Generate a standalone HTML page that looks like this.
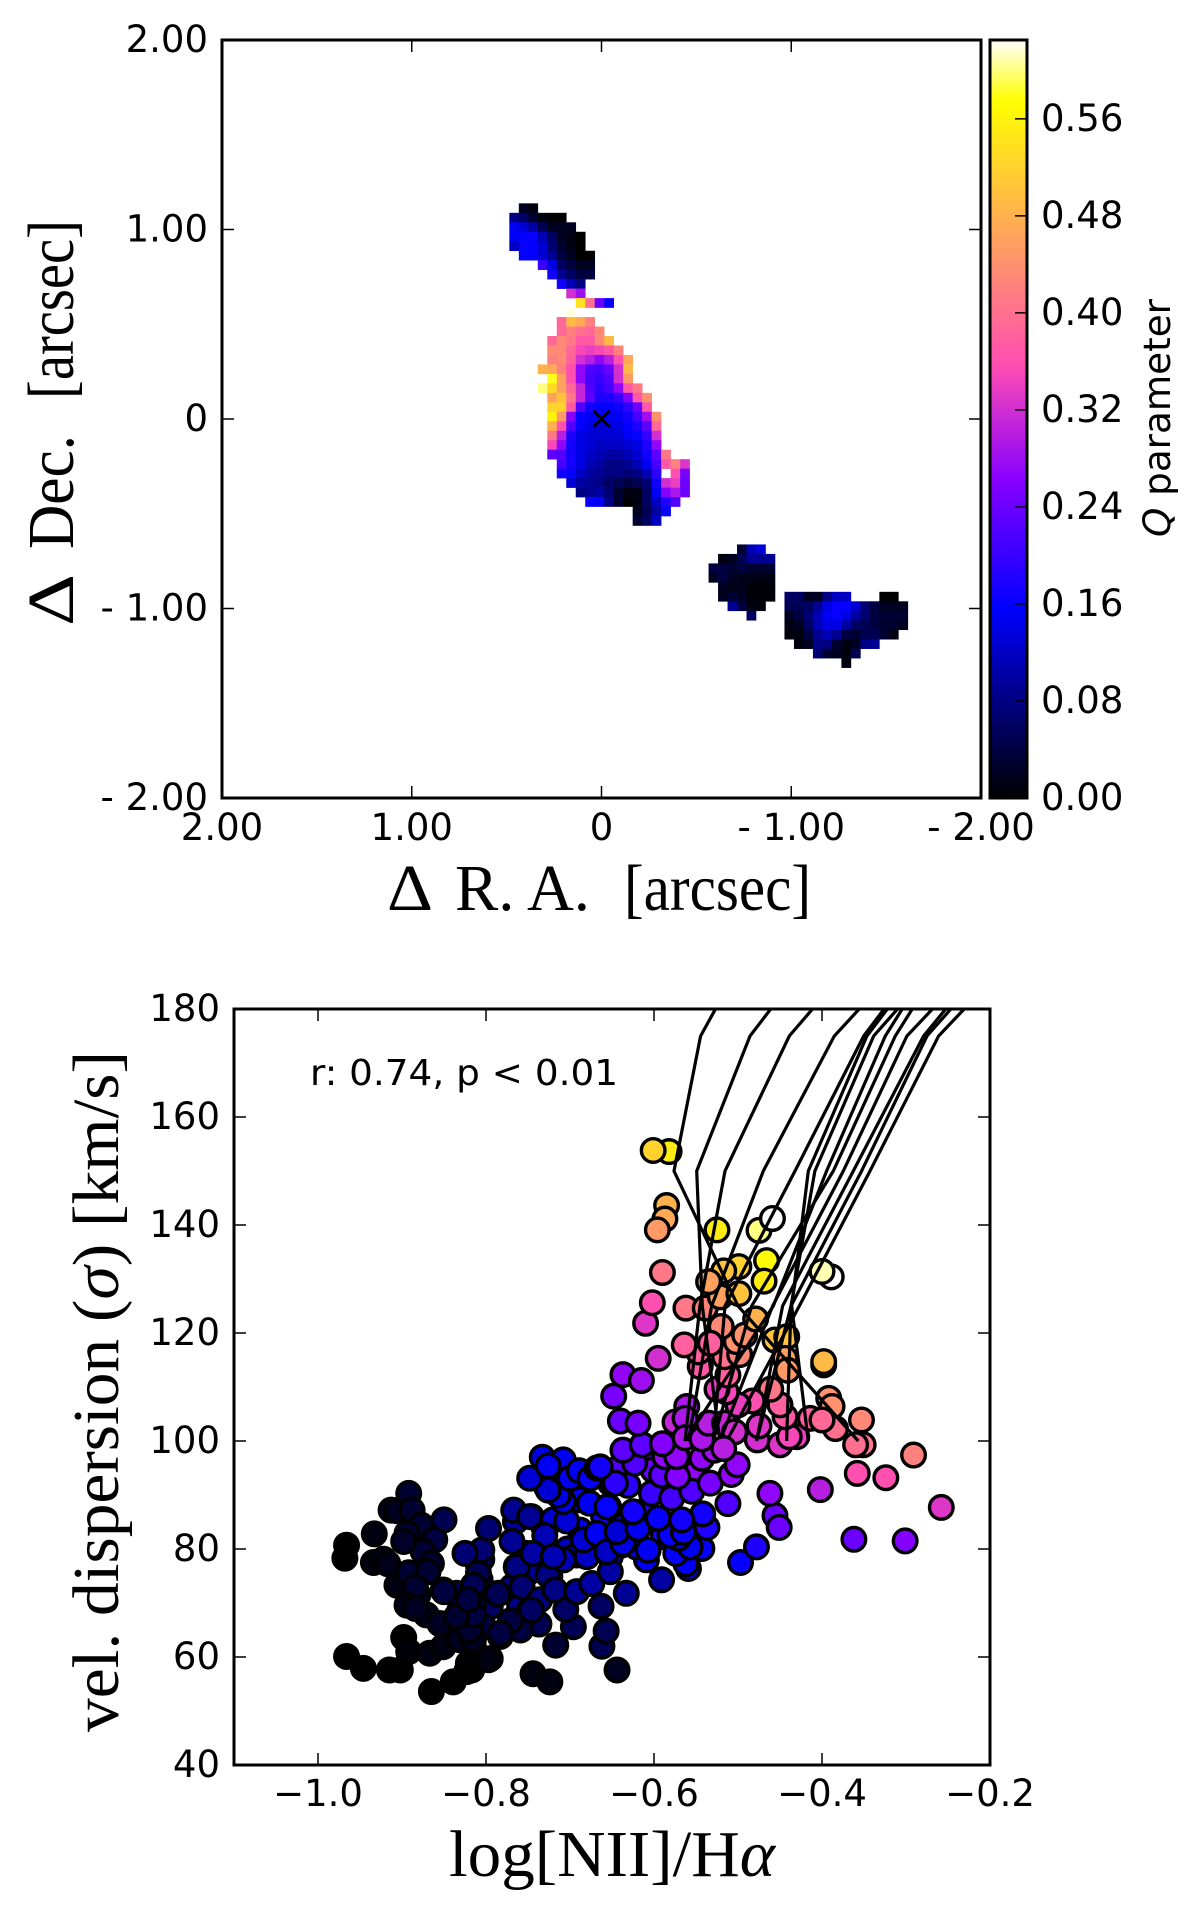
<!DOCTYPE html>
<html>
<head>
<meta charset="utf-8">
<title>Q parameter map and velocity dispersion diagram</title>
<style>
html,body{margin:0;padding:0;background:#fff;}
svg{display:block;}
.tick{font-family:"DejaVu Sans",sans-serif;font-size:37px;fill:#000;}
.math{font-family:"Liberation Serif",serif;font-size:66px;fill:#000;}
</style>
</head>
<body>
<svg id="fig" xmlns="http://www.w3.org/2000/svg" width="1200" height="1915" viewBox="0 0 1200 1915">
  <rect x="0" y="0" width="1200" height="1915" fill="#fff"/>
  <defs>
    <clipPath id="scatterClip"><rect x="234" y="1009" width="756" height="756"/></clipPath>
    <linearGradient id="cbGrad" x1="0" y1="1" x2="0" y2="0"></linearGradient>
  </defs>
  <g id="heat"></g>
  <g id="mapAxes"></g>
  <rect x="990" y="40" width="37" height="758" fill="url(#cbGrad)"/>
  <g id="cbAxes"></g>
  <g id="pts"></g>
  <g id="lines" clip-path="url(#scatterClip)"></g>
  <g id="ptsTop"></g>
  <g id="scAxes"></g>

  <g>
    <text class="math" x="387" y="910" textLength="46" lengthAdjust="spacingAndGlyphs">Δ</text>
    <text class="math" x="455" y="910" textLength="135" lengthAdjust="spacingAndGlyphs">R. A.</text>
    <text class="math" x="624" y="910" textLength="187" lengthAdjust="spacingAndGlyphs">[arcsec]</text>
  </g>
  <g>
    <text class="math" transform="translate(73,626) rotate(-90)" textLength="52" lengthAdjust="spacingAndGlyphs">Δ</text>
    <text class="math" transform="translate(73,549) rotate(-90)" textLength="114" lengthAdjust="spacingAndGlyphs">Dec.</text>
    <text class="math" transform="translate(73,399) rotate(-90)" textLength="179" lengthAdjust="spacingAndGlyphs">[arcsec]</text>
  </g>
  <text class="tick" transform="translate(1170,537) rotate(-90)" textLength="238" lengthAdjust="spacingAndGlyphs"><tspan font-style="italic">Q</tspan> parameter</text>
  <text class="math" transform="translate(118,1732) rotate(-90)" textLength="681" lengthAdjust="spacingAndGlyphs">vel. dispersion (<tspan font-style="italic">σ</tspan>) [km/s]</text>
  <text class="math" x="449" y="1876" textLength="326" lengthAdjust="spacingAndGlyphs">log[NII]/H<tspan font-style="italic">α</tspan></text>
  <text class="tick" x="310" y="1085" textLength="308" lengthAdjust="spacingAndGlyphs" style="font-size:36px">r: 0.74, p &lt; 0.01</text>
</svg>
<script>
var _ = null;
// ---- Map: Q values per 0.05 arcsec spaxel; each row begins at qStartCol[row]
var qStartCol = [1,0,0,0,0,1,3,4,5,6,7,6,5,5,4,4,4,3,4,3,4,4,4,4,4,4,4,5,5,6,7,8,13,13,0,0,24,22,21,21,22,22,23,25,29,29,30,32,35];
var qGrid = [
[.02,.01],
[.08,.06,.03,.01,0,0],
[.15,.13,.10,.05,.02,.02,.02],
[.15,.16,.16,.11,.06,.02,.01,0],
[.12,.16,.16,.13,.07,.03,.01,0],
[.16,.16,.13,.09,.04,.02,0,0],
[.20,.14,.06,.04,.02,.02],
[.17,.09,.06,.04,.04],
[.17,.11,.08],
[.32,.28],
[.54,.40,.24,.16],
[.62],
[.39,.49,.47,.42],
[.39,.42,.40,.39,.43],
[.39,.43,.41,.37,.37,.43,.49],
[.43,.43,.39,.35,.34,.35,.37,.42],
[.42,.43,.38,.32,.30,.27,.30,.36,.47],
[.48,.47,.42,.36,.27,.22,.21,.24,.32,.49],
[.58,.46,.36,.27,.21,.20,.22,.32,.45],
[.60,.53,.46,.39,.31,.22,.19,.21,.27,.37,.41],
[.46,.50,.41,.31,.23,.18,.18,.20,.26,.37,.44],
[.52,.52,.37,.22,.17,.16,.16,.17,.19,.24,.37],
[.56,.45,.26,.16,.15,.15,.15,.15,.17,.21,.28,.44],
[.48,.36,.22,.16,.14,.13,.13,.14,.16,.18,.23,.39],
[.41,.30,.18,.14,.13,.13,.13,.13,.15,.16,.20,.32],
[.35,.27,.17,.14,.13,.12,.12,.12,.13,.14,.18,.27],
[.23,.22,.17,.14,.12,.11,.10,.10,.11,.13,.17,.23,.41],
[.21,.17,.14,.11,.10,.08,.08,.09,.11,.15,.21,.37,.42,.33],
[.17,.16,.12,.10,.09,.08,.08,.07,.08,.11,.19,_,.36,.25],
[.13,.10,.09,.08,.06,.05,.04,.05,.07,.17,.32,.34,.24],
[.08,.09,.10,.07,.03,.01,.01,.06,.15,.26,.29,.24],
[.16,.15,.08,.03,0,.01,.06,.12,.18,.22],
[.02,.05,.10,.16],
[.03,.06,.12],
[],
[],
[.03,.11,.13],
[.01,.02,.05,.09,.09,.09],
[.04,.04,.03,.04,.03,.03,.03],
[.02,.04,.02,.015,.015,.01,.01],
[.02,.015,.015,.005,.005,.005],
[.02,.03,.02,.005,.005,.005,_,.06,.06,.02,.02,.08,.12,.12,_,_,_,0,0],
[.09,.04,.01,.005,_,_,.05,.05,.06,.09,.14,.16,.16,.13,.07,.04,.02,.02,.02],
[.06,_,_,_,.02,.04,.07,.11,.15,.16,.14,.10,.07,.04,.03,.03,.03],
[.01,.02,.06,.11,.14,.14,.10,.06,.05,.04,.03,.03,.02],
[.005,.01,.04,.09,.11,.09,.04,.03,.05,.05,.03,.01],
[.01,.02,.08,.08,.03,.01,.02,.08,.09],
[.07,.03,.02,.01,.05],
[.01]
];
var mapTicks = [2,1,0,-1,-2];
var mapTickLabelsX = ["2.00","1.00","0","- 1.00","- 2.00"];
var mapTickLabelsY = ["2.00","1.00","0","- 1.00","- 2.00"];
var gridOriginRa = 0.4857, gridOriginDec = 1.138, gridStep = 0.05;
var nucleus = [0,0];
var cbTicks = [0,.08,.16,.24,.32,.40,.48,.56];
var cbTickLabels = ["0.00","0.08","0.16","0.24","0.32","0.40","0.48","0.56"];
var qMax = 0.625;

// ---- Scatter: log[NII]/Halpha, velocity dispersion, Q parameter
var logNII = [
-.807,-.809,-.815,-.785,-.769,-.764,-.752,-.736,-.724,-.718,
-.746,-.732,-.720,-.688,-.696,-.708,-.680,-.668,-.656,-.639,
-.621,-.660,-.640,-.704,-.728,-.714,-.652,-.668,-.688,-.795,
-.815,-.831,-.835,-.760,-.748,-.783,-.803,-.831,-.843,-.851,
-.795,-.815,-.821,
-.654,-.652,-.641,-.613,-.601,-.573,-.575,-.549,-.609,-.609,
-.621,-.652,-.637,-.589,-.553,
-.966,-.968,-.933,-.934,-.922,-.917,-.913,-.906,-.892,-.888,
-.877,-.850,-.894,-.861,-.875,-.898,-.865,-.906,-.892,-.869,
-.850,-.881,-.884,-.894,-.871,-.884,-.855,-.898,-.892,-.966,
-.946,-.915,-.902,-.865,-.839,-.823,-.817,-.797,-.867,-.851,
-.831,-.815,-.744,-.724,-.644,-.717,-.662,-.657,-.696,-.663,
-.705,-.737,-.759,-.771,-.783,-.819,-.815,-.835,-.786,-.805,
-.805,-.825,-.797,-.809,-.815,-.821,-.765,-.767,-.748,-.769,
-.730,-.736,-.748,-.763,-.726,-.757,-.736,-.746,-.718,-.692,
-.674,-.703,-.704,-.708,-.714,-.726,-.748,-.733,-.708,-.726,
-.700,-.689,-.676,-.668,-.677,-.672,-.692,-.708,-.680,-.744,
-.720,-.684,-.668,
-.633,-.652,-.591,-.656,-.637,-.607,-.644,-.559,-.562,-.574,
-.543,-.557,-.571,-.581,-.619,-.565,-.537,-.542,-.567,-.595,
-.625,-.656,-.497,-.478,-.631,-.646,-.664,-.603,-.579,-.555,
-.512,-.591,-.623,-.637,-.614,-.572,-.587,-.573,-.590,-.533,
-.508,-.501,-.543,-.528,-.456,-.451,-.462,-.402,-.362,-.301,
-.258,-.358,-.324,-.291,-.640,-.619,-.648,-.637,-.615,-.595,
-.610,-.602,-.562,-.575,-.561,-.563,-.563,-.543,-.535,-.516,
-.504,-.477,-.475,-.450,-.430,-.439,-.444,-.450,-.461,-.483,
-.500,-.514,-.525,-.512,-.545,-.547,-.564,-.516,-.498,-.502,
-.492,-.520,-.533,-.539,-.521,-.499,-.479,-.456,-.442,-.444,
-.441,-.398,-.398,-.392,-.388,-.384,-.414,-.353,-.351,-.360,
-.582,-.601,-.585,-.587,-.596,-.590,-.525,-.475,-.459,-.466,
-.469,-.499,-.517,-.535,-.389,-.400
];
var sigmaKms = [
74.3,77.0,72.4,71.8,73.0,76.7,79.2,77.6,74.9,72.4,
86.0,84.4,85.4,83.5,79.8,78.0,78.6,81.7,82.9,80.7,
80.4,86.0,84.1,92.8,91.5,90.3,92.2,94.6,89.1,69.3,
69.6,68.7,71.8,69.3,68.7,63.8,65.6,63.8,66.2,72.4,
59.7,61.9,58.8,
87.8,92.8,95.2,98.3,94.6,97.7,93.1,94.3,87.2,78.0,
80.4,78.6,81.1,82.3,79.8,
80.7,78.3,82.8,77.5,78.1,77.3,87.2,87.1,90.3,87.2,
84.4,85.4,82.9,81.7,79.6,81.4,77.3,73.3,75.6,75.8,
72.1,71.5,72.9,69.6,67.8,69.0,66.2,63.6,61.0,60.1,
57.9,57.6,57.6,53.6,55.4,57.3,57.6,59.5,60.7,61.9,
63.2,63.2,56.9,55.4,57.6,62.2,62.0,64.8,65.6,69.4,
68.8,66.1,65.0,66.7,64.4,65.0,67.8,67.5,71.7,78.1,
79.8,79.2,83.8,75.5,73.3,70.6,85.1,87.2,86.0,81.4,
82.5,77.7,75.8,76.7,75.2,73.0,70.6,68.7,72.4,72.1,
73.6,80.0,85.2,88.8,90.0,90.9,93.1,97.0,96.5,95.4,
93.1,94.5,93.1,95.0,88.5,80.4,78.9,78.0,78.6,79.2,
78.6,81.7,82.9,
71.8,75.8,74.3,79.5,81.0,79.8,83.2,76.4,77.3,79.2,
80.1,80.4,82.0,82.6,83.8,83.1,84.0,86.5,85.4,85.7,
86.9,87.8,77.5,80.4,91.8,92.2,95.2,90.3,89.4,90.7,
88.4,93.7,95.9,98.3,99.3,93.4,97.1,97.1,99.5,92.2,
93.8,95.6,96.8,98.3,86.2,84.0,90.3,91.0,81.8,81.5,
87.7,94.0,93.2,97.4,103.7,103.3,108.3,112.3,111.2,115.3,
121.8,125.6,124.6,103.5,106.4,104.2,100.6,100.4,103.3,103.3,
101.7,100.2,102.8,99.3,100.8,100.8,104.5,106.7,109.6,107.4,
106.7,109.1,109.6,112.2,113.8,116.5,117.8,115.6,116.0,118.4,
119.6,121.2,118.1,124.6,126.7,127.3,122.6,118.7,119.3,115.3,
113.1,114.1,114.7,107.9,106.4,102.3,104.2,103.9,99.3,99.3,
153.6,153.8,143.6,141.1,139.1,131.2,139.1,139.0,141.2,133.4,
129.6,132.3,131.5,129.5,130.4,131.4
];
var qParam = [
.05,.06,.05,.06,.08,.09,.11,.11,.10,.09,
.10,.12,.13,.15,.14,.13,.14,.16,.16,.16,
.16,.17,.17,.16,.15,.16,.19,.15,.16,.06,
.05,.04,.05,.08,.08,.05,.04,.03,.02,.02,
.01,.01,0,
.16,.20,.22,.24,.24,.26,.27,.27,.19,.15,
.15,.14,.16,.18,.16,
0,0,.01,.01,.015,.015,.02,.02,.03,.03,
.03,.05,.03,.04,.03,.025,.03,.01,.03,.03,
.04,.03,.03,.015,.02,.02,.02,0,.005,0,
0,0,0,0,0,0,0,.01,.01,.01,
.02,.02,.01,.01,.02,.03,.05,.05,.05,.06,
.06,.05,.04,.04,.04,.03,.04,.03,.05,.06,
.07,.07,.07,.05,.05,.04,.09,.09,.09,.09,
.11,.09,.09,.08,.08,.07,.08,.06,.08,.09,
.10,.12,.13,.14,.14,.13,.13,.14,.15,.15,
.15,.15,.16,.14,.15,.12,.12,.11,.12,.10,
.11,.13,.15,
.09,.10,.10,.12,.14,.15,.13,.13,.15,.16,
.16,.15,.15,.16,.15,.16,.18,.17,.17,.16,
.17,.16,.16,.18,.19,.19,.17,.20,.21,.22,
.22,.23,.22,.23,.23,.26,.27,.27,.26,.25,
.27,.27,.27,.28,.24,.24,.27,.30,.24,.26,
.33,.36,.36,.42,.24,.25,.25,.27,.28,.32,
.33,.36,.41,.31,.29,.29,.29,.29,.30,.31,
.32,.32,.33,.33,.34,.35,.37,.38,.41,.36,
.34,.35,.34,.38,.37,.38,.38,.40,.43,.44,
.44,.43,.38,.42,.46,.50,.48,.50,.50,.46,
.45,.03,.49,.44,.44,.40,.38,.43,.41,.40,
.55,.52,.48,.47,.45,.41,.55,.60,.625,.57,
.55,.52,.50,.46,.625,.61
];
// Points drawn above the model lines
var logNIITop = [-.517,-.400];
var sigmaKmsTop = [98.6,103.9];
var qParamTop = [.30,.39];

// ---- Model tracks: log[NII]/Halpha at each dispersion level
var trackSigma = [100,125,150,175,200];
var tracks = [
[-.3568,-.5000,-.5762,-.5445,-.4560],
[-.5215,-.5425,-.5492,-.4857,-.3623],
[-.5631,-.5453,-.5155,-.4389,-.3008],
[-.5591,-.5314,-.4699,-.3853,-.2369],
[-.5294,-.5155,-.4322,-.3504,-.2290],
[-.4163,-.4361,-.4163,-.3465,-.2250],
[-.4778,-.4369,-.4084,-.3385,-.1965],
[-.5631,-.4580,-.3945,-.3246,-.2238],
[-.5294,-.4838,-.3865,-.3127,-.2119],
[-.5215,-.4588,-.3746,-.2989,-.1465],
[-.4778,-.4469,-.3627,-.2790,-.1473],
[-.4421,-.4369,-.3528,-.2750,-.1330],
[-.5135,-.4270,-.3429,-.2612,-.1088]
];
var scXTicks = [-1.0,-0.8,-0.6,-0.4,-0.2];
var scXTickLabels = ["−1.0","−0.8","−0.6","−0.4","−0.2"];
var scYTicks = [40,60,80,100,120,140,160,180];
var scYTickLabels = ["40","60","80","100","120","140","160","180"];

var NS = "http://www.w3.org/2000/svg";
function mk(tag, parent, attrs){
  var el = document.createElementNS(NS, tag);
  for (var k in attrs) el.setAttribute(k, attrs[k]);
  parent.appendChild(el);
  return el;
}
function clamp(v){ return Math.max(0, Math.min(1, v)); }
function cmap(q){
  var x = clamp(q / qMax);
  var r = clamp(x / 0.32 - 0.78125);
  var g = clamp(2 * x - 0.84);
  var b = x < 0.25 ? 4 * x : (x < 0.92 ? clamp(-2 * x + 1.84) : clamp(x / 0.08 - 11.5));
  return "rgb(" + Math.round(r * 255) + "," + Math.round(g * 255) + "," + Math.round(b * 255) + ")";
}
// Map axes functions
var mapL = 222, mapR = 981, mapT = 40, mapB = 798;
function raX(ra){ return mapL + (2 - ra) / 4 * (mapR - mapL); }
function decY(d){ return mapT + (2 - d) / 4 * (mapB - mapT); }
var qY = function(q){ return mapB - q / qMax * (mapB - mapT); };
// Scatter axes functions
var scL = 234, scR = 990, scT = 1009, scB = 1765;
function logX(v){ return scL + (v + 1.1) / 0.9 * (scR - scL); }
function sigY(v){ return scT + (180 - v) / 140 * (scB - scT); }

// Heat map
var heat = document.getElementById("heat");
qGrid.forEach(function(row, r){
  row.forEach(function(v, i){
    if (v === null) return;
    var c = qStartCol[r] + i;
    var x0 = raX(gridOriginRa - c * gridStep);
    var y0 = decY(gridOriginDec - r * gridStep);
    var w = raX(gridOriginRa - (c + 1) * gridStep) - x0;
    var h = decY(gridOriginDec - (r + 1) * gridStep) - y0;
    var cell = mk("rect", heat, {x: x0, y: y0, width: w + 0.3, height: h + 0.3, fill: cmap(v)});
    
    
  });
});

function tickLine(parent, x1, y1, x2, y2, w){
  var t = mk("line", parent, {x1: x1, y1: y1, x2: x2, y2: y2, stroke: "#000", "stroke-width": w});
  
  
}
function label(parent, txt, x, y, anchor){
  var t = mk("text", parent, {x: x, y: y, "text-anchor": anchor, "class": "tick"});
  t.textContent = txt;
  
  
}
function frame(parent, l, t, r, b){
  var f = mk("rect", parent, {x: l, y: t, width: r - l, height: b - t, fill: "none", stroke: "#000", "stroke-width": 3});
  
  
}

// Map axes
var mapAxes = document.getElementById("mapAxes");
mapTicks.forEach(function(v, i){
  var x = raX(v), y = decY(v);
  tickLine(mapAxes, x, mapB, x, mapB - 12, 1.5);
  tickLine(mapAxes, x, mapT, x, mapT + 12, 1.5);
  tickLine(mapAxes, mapL, y, mapL + 12, y, 1.5);
  tickLine(mapAxes, mapR, y, mapR - 12, y, 1.5);
  label(mapAxes, mapTickLabelsX[i], x, 840, "middle");
  label(mapAxes, mapTickLabelsY[i], 208, y + 12, "end");
});
frame(mapAxes, mapL, mapT, mapR, mapB);
// Nucleus cross
var cx = raX(nucleus[0]), cy = decY(nucleus[1]);
var cross = mk("path", mapAxes, {d: "M" + (cx - 8) + " " + (cy - 8) + "L" + (cx + 8) + " " + (cy + 8) + "M" + (cx - 8) + " " + (cy + 8) + "L" + (cx + 8) + " " + (cy - 8), stroke: "#000", "stroke-width": 2.8, fill: "none"});



// Colorbar
var grad = document.getElementById("cbGrad");
for (var s = 0; s <= 64; s++) {
  mk("stop", grad, {offset: (s / 64), "stop-color": cmap(qMax * s / 64)});
}
var cbAxes = document.getElementById("cbAxes");
frame(cbAxes, 990, mapT, 1027, mapB);
cbTicks.forEach(function(v, i){
  var y = qY(v);
  tickLine(cbAxes, 1027, y, 1015, y, 1.5);
  label(cbAxes, cbTickLabels[i], 1041, y + 12, "start");
});

// Scatter
function drawPoints(parentId, xs, ys, qs){
  var g = document.getElementById(parentId);
  xs.forEach(function(v, i){
    var c = mk("circle", g, {cx: logX(v), cy: sigY(ys[i]), r: 11.8, fill: cmap(qs[i]), stroke: "#000", "stroke-width": 3.4});
    
    
  });
}
drawPoints("pts", logNII, sigmaKms, qParam);
var lineG = document.getElementById("lines");
tracks.forEach(function(tr){
  var p = tr.map(function(v, i){ return logX(v).toFixed(1) + "," + sigY(trackSigma[i]).toFixed(1); }).join(" ");
  var l = mk("polyline", lineG, {points: p, fill: "none", stroke: "#000", "stroke-width": 3.2});
  
  
});
drawPoints("ptsTop", logNIITop, sigmaKmsTop, qParamTop);

// Scatter axes
var scAxes = document.getElementById("scAxes");
scXTicks.forEach(function(v, i){
  var x = logX(v);
  tickLine(scAxes, x, scB, x, scB - 12, 1.5);
  tickLine(scAxes, x, scT, x, scT + 12, 1.5);
  label(scAxes, scXTickLabels[i], x, 1806, "middle");
});
scYTicks.forEach(function(v, i){
  var y = sigY(v);
  tickLine(scAxes, scL, y, scL + 12, y, 1.5);
  tickLine(scAxes, scR, y, scR - 12, y, 1.5);
  label(scAxes, scYTickLabels[i], 220, y + 12, "end");
});
frame(scAxes, scL, scT, scR, scB);
</script>
</body>
</html>
